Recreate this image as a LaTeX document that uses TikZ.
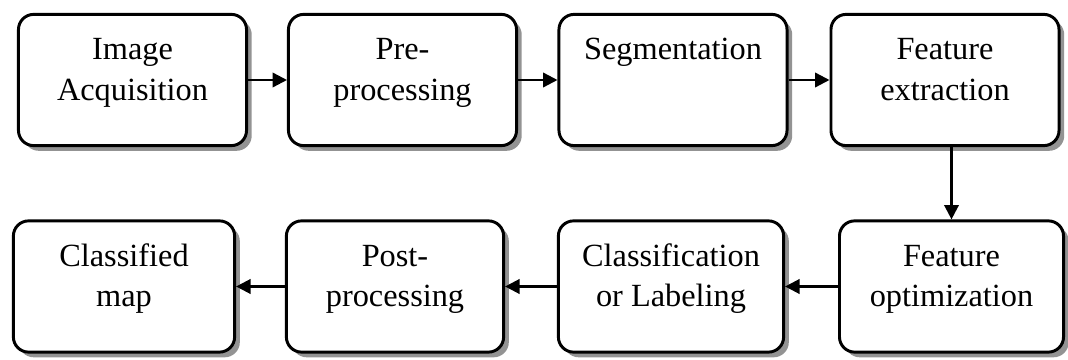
\documentclass[tikz,border=0pt]{standalone}
\usepackage{fontspec}
\setmainfont{Liberation Serif}
\usepackage{tikz}
\usetikzlibrary{arrows.meta, positioning, shadows}

\begin{document}
\begin{tikzpicture}[x=0.025cm, y=-0.025cm,
    stage/.style={draw, line width=2.1pt, fill=white, rounded corners=0.38cm,
        minimum height=3.28cm, align=center, text height=1.7cm, text depth=0.7cm,
        font=\fontsize{23}{28.5}\selectfont,
        drop shadow={shadow xshift=0.13cm, shadow yshift=-0.13cm, fill=gray!85, opacity=1}},
    flow/.style={-{Triangle[length=0.36cm, width=0.36cm]}, line width=1.7pt}
]
\useasboundingbox (0,0) rectangle (1068,360);

% Top row
\node[stage, minimum width=5.7cm] (acq) at (132.5,80) {Image\\Acquisition};
\node[stage, minimum width=5.7cm] (pre) at (402.5,80) {Pre-\\processing};
\node[stage, minimum width=5.7cm] (seg) at (673,80) {Segmentation\\\strut};
\node[stage, minimum width=5.7cm] (feat) at (945,80) {Feature\\extraction};

% Bottom row
\node[stage, minimum width=5.6cm] (opt) at (951.5,286.5) {Feature\\optimization};
\node[stage, minimum width=5.63cm] (cls) at (671,286.5) {Classification\\or Labeling};
\node[stage, minimum width=5.43cm] (post) at (395,286.5) {Post-\\processing};
\node[stage, minimum width=5.53cm] (map) at (124,286.5) {Classified\\map};

% Connections
\draw[flow] (acq) -- (pre);
\draw[flow] (pre) -- (seg);
\draw[flow] (seg) -- (feat);
\draw[flow] (feat.south -| opt.north) -- (opt.north);
\draw[flow] (opt) -- (cls);
\draw[flow] (cls) -- (post);
\draw[flow] (post) -- (map);

\end{tikzpicture}
\end{document}
